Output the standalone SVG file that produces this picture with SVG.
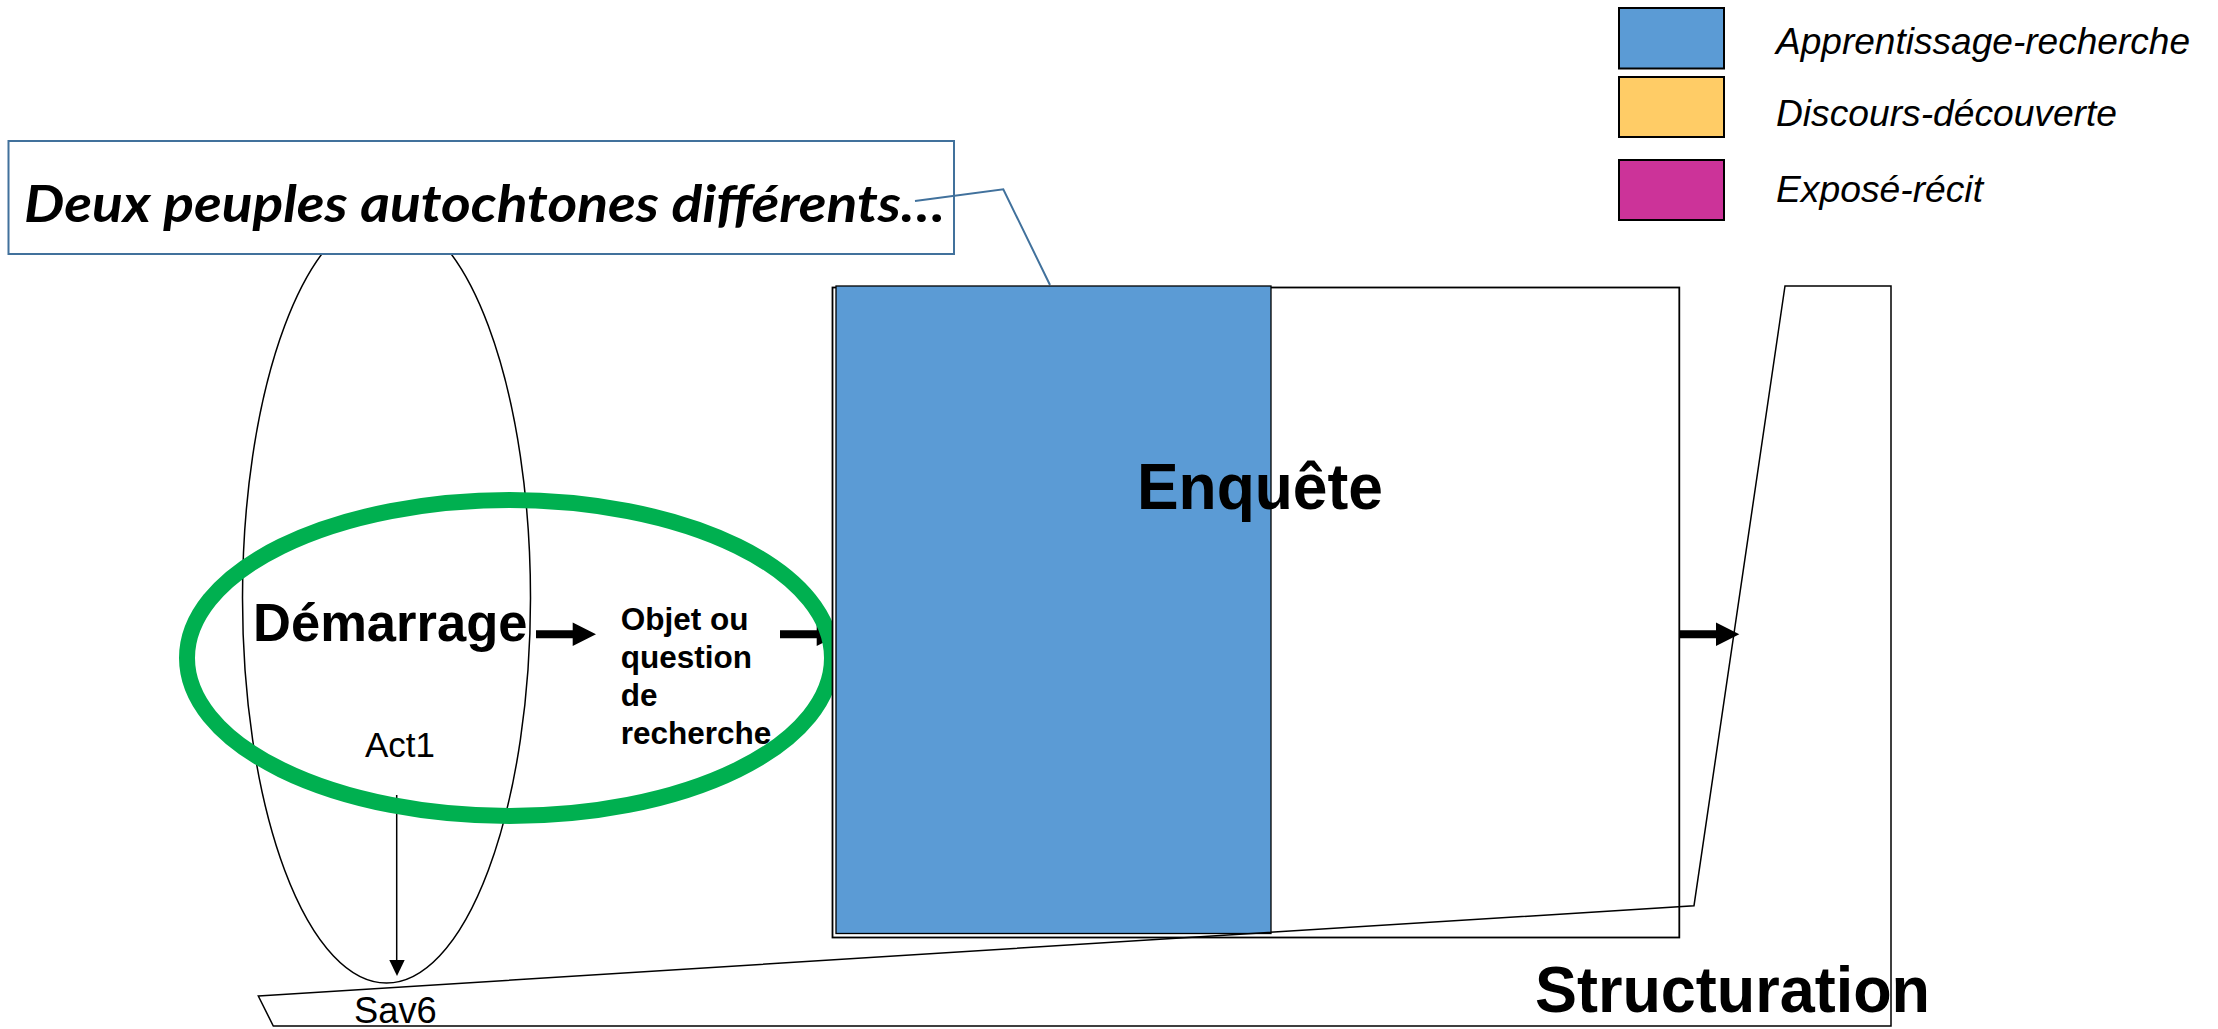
<svg xmlns="http://www.w3.org/2000/svg" width="2218" height="1029" viewBox="0 0 2218 1029">
<style>
.ln{fill:none;stroke:#000;stroke-width:1.5}
.sans{font-family:"Liberation Sans",Arial,sans-serif;fill:#000}
.b{font-weight:bold}
.it{font-style:italic}
.callout{fill:#fff;stroke:#41719C;stroke-width:2}
.ptr{fill:none;stroke:#41719C;stroke-width:2}
.leg{stroke:#000;stroke-width:2}
</style>
<defs>
<path id="blockArrow" d="M0,-4 H36.7 V-11.7 L60,0 L36.7,11.7 V4 H0 Z" fill="#000"/>
</defs>
<rect x="0" y="0" width="2218" height="1029" fill="#fff"/>

<g id="grande-ellipse">
<ellipse class="ln" cx="386.5" cy="598" rx="144" ry="385"/>
</g>

<g id="callout">
<rect class="callout" x="8.5" y="141" width="945.5" height="113"/>
<text x="24" y="221.7" font-family="Lato,'Open Sans',sans-serif" font-weight="bold" font-style="italic" font-size="51" textLength="921" lengthAdjust="spacingAndGlyphs">Deux peuples autochtones différents…</text>
</g>

<g id="connectors">
<polyline class="ptr" points="915,201 1003.3,189.3 1050,285"/>
<use href="#blockArrow" transform="translate(536,634.3)"/>
<use href="#blockArrow" transform="translate(780,634.3)"/>
<line x1="396.7" y1="795" x2="396.7" y2="962" stroke="#000" stroke-width="1.5"/>
<polygon points="389.3,960 404.7,960 397,976" fill="#000"/>
</g>

<g id="cercle-vert">
<ellipse cx="509.5" cy="658" rx="322.5" ry="158" fill="none" stroke="#00B050" stroke-width="16"/>
</g>

<g id="enquete">
<rect x="832.5" y="287.5" width="846.8" height="650" fill="#fff" stroke="#000" stroke-width="1.8"/>
<rect x="836" y="286" width="435" height="647.5" fill="#5B9BD5" stroke="#000" stroke-width="1.3"/>
<text class="sans b" x="1137" y="509.3" font-size="64" textLength="246" lengthAdjust="spacingAndGlyphs">Enquête</text>
</g>

<g id="structuration">
<text class="sans b" x="1535" y="1011.7" font-size="64" textLength="395" lengthAdjust="spacingAndGlyphs">Structuration</text>
<polygon class="ln" points="258.3,996 1694,905.7 1785,286 1891,286 1891,1026 273.3,1026"/>
</g>

<g id="fleche-structuration">
<use href="#blockArrow" transform="translate(1679.3,634.3)"/>
</g>

<g id="demarrage">
<text class="sans b" x="253" y="640.7" font-size="54" textLength="274.5" lengthAdjust="spacingAndGlyphs">Démarrage</text>
</g>

<g id="objet">
<text class="sans b" font-size="31.5">
<tspan x="620.7" y="629.5">Objet ou</tspan>
<tspan x="620.7" y="667.5">question</tspan>
<tspan x="620.7" y="705.5">de</tspan>
<tspan x="620.7" y="743.5">recherche</tspan>
</text>
</g>

<g id="act1">
<text class="sans" x="365" y="757.3" font-size="35" textLength="70" lengthAdjust="spacingAndGlyphs">Act1</text>
</g>

<g id="sav6">
<text class="sans" x="354" y="1023" font-size="36" textLength="82.7" lengthAdjust="spacingAndGlyphs">Sav6</text>
</g>

<g id="legende">
<rect class="leg" x="1619" y="8" width="105" height="60.5" fill="#5B9BD5"/>
<rect class="leg" x="1619" y="77" width="105" height="60" fill="#FFCC66"/>
<rect class="leg" x="1619" y="160" width="105" height="60" fill="#CC3399"/>
<text class="sans it" x="1776" y="54" font-size="37" textLength="414" lengthAdjust="spacingAndGlyphs">Apprentissage-recherche</text>
<text class="sans it" x="1776" y="126" font-size="37" textLength="341" lengthAdjust="spacingAndGlyphs">Discours-découverte</text>
<text class="sans it" x="1776" y="202" font-size="37" textLength="207" lengthAdjust="spacingAndGlyphs">Exposé-récit</text>
</g>
</svg>
